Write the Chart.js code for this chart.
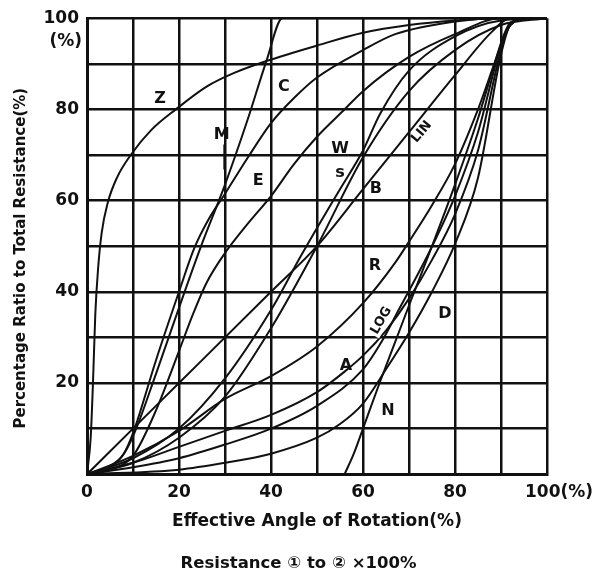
<!DOCTYPE html>
<html>
<head>
<meta charset="utf-8">
<script src="https://cdn.jsdelivr.net/npm/chart.js@4.4.1/dist/chart.umd.min.js"></script>
<style>
    html, body { margin: 0; padding: 0; background: #fff; }
    #wrap { width: 597px; height: 579px; }
</style>
</head>
<body>
<div id="wrap"><canvas id="taperChart"></canvas></div>
<script>
// taper curves, [rotation %, resistance %]
const curveZ = [[0,0],[0.8,8],[1.3,20],[1.8,35],[2.4,45],[3.2,53],[4.5,59.5],[6.5,65],[9.5,70],[14,75.5],[19.3,80],[26,85],[32,88],[39,90.6],[50,94],[60,96.8],[70,98.5],[80,99.5],[90,100],[100,100]];
const curveM = [[0,0],[4.8,1.7],[7.6,3.9],[10,8.3],[15,22],[20,36.5],[24.8,50],[30,63.5],[35,78],[39,90.6],[42.5,100],[100,100]];
const curveC = [[0,0],[5,1.6],[8,4.5],[10,9],[15,25],[20,40],[23.3,49.5],[26.5,56],[30,61.5],[35,69.5],[40,77],[45,82.5],[50,87],[60,93],[67,96.5],[80,99.3],[90,100],[100,100]];
const curveE = [[0,0],[5,1],[10,4],[15,14],[20,27],[23,35],[26,42],[30,48.5],[35,55],[40,61],[45,68],[50,74],[55.7,79.7],[60,84],[70,91.5],[80,96.5],[90,100],[100,100]];
const curveS = [[0,0],[10,2.5],[20,8],[30,17],[40,32],[50,50],[60,69.5],[70,84],[80,93],[90,98.5],[100,100]];
const curveW = [[0,0],[10,3.5],[20,10],[30,21],[40,36],[46.3,47.5],[50,54],[55,62.5],[60,71],[63.7,79],[70,88.5],[80,96],[90,99.5],[100,100]];
const curveLin = [[0,0],[20,20],[40,40],[50,50],[60,62.5],[70,75],[80,87.5],[88,97],[92,100],[100,100]];
const curveR = [[0,0],[10,4],[20,9.5],[30,16.5],[40,21.5],[50,28],[60,37.5],[67,46.4],[70,51],[75,59],[80,68],[85,80],[90,94],[92,98.5],[96,100],[100,100]];
const curveA = [[0,0],[10,2.5],[20,6],[30,9.5],[40,13],[50,18],[56,22.5],[60,26],[65,31.5],[70,38.5],[75,47],[80,57],[85,71],[90,93],[92,98.5],[96,100],[100,100]];
const curveLog = [[0,0],[10,1.5],[20,3.5],[30,6.5],[40,10],[50,15],[60,23],[64,29],[68,36.5],[72,44],[76,52],[80,61],[85,75],[90,94],[92,98.5],[96,100],[100,100]];
const curveD = [[0,0],[20,1],[30,2.5],[40,4.5],[50,8],[55,11],[60,15.5],[65,23],[70,31],[75,40],[80,50.5],[85,65],[90,92],[92,98.5],[96,100],[100,100]];
const curveN = [[56,0],[58,4.5],[60,10],[63.6,20],[67,29],[70,37],[75,50],[80,63.5],[85,78],[88,88],[90.5,96],[92,99],[96,100],[100,100]];
const leaderM = [[29.8,72.3],[29.8,66.8]];

const xTickLabels = [0, 20, 40, 60, 80];
const yTickLabels = [20, 40, 60, 80, 100];

// curve name labels
const labelTexts = ["Z", "C", "M", "E", "W", "s", "B", "LIN", "R", "LOG", "D", "A", "N"];
const labelX = [15.9, 42.8, 29.3, 37.2, 55, 55, 62.8, 72.6, 62.6, 63.8, 77.8, 56.3, 65.4];
const labelY = [82.5, 85.2, 74.7, 64.6, 71.6, 66.4, 62.9, 75.2, 45.9, 33.8, 35.4, 24, 14.2];
const labelAngle = [0, 0, 0, 0, 0, 0, 0, -50, 0, -60, 0, 0, 0];
const labelBoxed = [false, false, false, false, false, false, false, false, false, true, false, false, false];

const yTitle = "Percentage Ratio to Total Resistance(%)";

const ink = "#111";
const fontFamily = "'DejaVu Sans', 'Liberation Sans', sans-serif";

function toPoints(pairs) {
    return pairs.map(([x, y]) => ({ x, y }));
}

function curveDataset(pairs, width = 2) {
    return {
        data: toPoints(pairs),
        showLine: true,
        borderColor: ink,
        borderWidth: width,
        pointRadius: 0,
        tension: 0.4,
        cubicInterpolationMode: "monotone",
    };
}

const curveLabelPlugin = {
    id: "curveLabels",
    afterDatasetsDraw(chart) {
        const { ctx, scales: { x, y } } = chart;
        ctx.save();
        ctx.textAlign = "center";
        ctx.textBaseline = "middle";
        labelTexts.forEach((text, i) => {
            const px = x.getPixelForValue(labelX[i]);
            const py = y.getPixelForValue(labelY[i]);
            ctx.save();
            ctx.translate(px, py);
            ctx.rotate(labelAngle[i] * Math.PI / 180);
            ctx.font = `bold ${text.length > 1 ? 13 : 16}px ${fontFamily}`;
            if (labelBoxed[i]) {
                const w = ctx.measureText(text).width + 4;
                ctx.fillStyle = "#fff";
                ctx.fillRect(-w / 2, -8, w, 16);
            }
            ctx.fillStyle = ink;
            ctx.fillText(text, 0, 1);
            ctx.restore();
        });

        // unit marks at the axis ends
        ctx.font = `bold 17px ${fontFamily}`;
        ctx.fillStyle = ink;
        ctx.textAlign = "right";
        ctx.fillText("(%)", x.left - 5, y.getPixelForValue(100) + 23);
        ctx.textAlign = "left";
        ctx.fillText("100(%)", x.getPixelForValue(100) - 22, x.top + 18);

        // vertical axis title, sitting a little below the plot centre like the print
        ctx.save();
        ctx.translate(21, (y.top + y.bottom) / 2 + 12);
        ctx.rotate(-Math.PI / 2);
        ctx.font = `bold 15px ${fontFamily}`;
        ctx.textAlign = "center";
        ctx.fillText(yTitle, 0, 0);
        ctx.restore();
        ctx.restore();
    }
};

const taperCanvas = document.getElementById("taperChart");
const taperChartData = {
    type: "scatter",
    data: {
        datasets: [
            curveDataset(curveZ),
            curveDataset(curveM),
            curveDataset(curveC),
            curveDataset(curveE),
            curveDataset(curveS),
            curveDataset(curveW),
            curveDataset(curveLin),
            curveDataset(curveR),
            curveDataset(curveA),
            curveDataset(curveLog),
            curveDataset(curveD),
            curveDataset(curveN),
            curveDataset(leaderM, 1.5),
        ]
    },
    options: {
        responsive: true,
        maintainAspectRatio: false,
        animation: false,
        layout: {
            padding: { top: 17, right: 0, left: 0, bottom: 0 }
        },
        plugins: {
            legend: { display: false },
            tooltip: { enabled: false },
            title: {
                display: true,
                position: "bottom",
                text: "Resistance \u2460 to \u2461 \u00d7100%",
                color: ink,
                font: { family: fontFamily, size: 16.5, weight: "bold" },
                padding: { top: 2, bottom: 5 }
            }
        },
        scales: {
            x: {
                type: "linear",
                min: 0,
                max: 100,
                afterFit: (scale) => { scale.height = 78; },
                ticks: {
                    stepSize: 10,
                    autoSkip: false,
                    maxRotation: 0,
                    padding: 8,
                    color: ink,
                    font: { family: fontFamily, size: 17, weight: "bold" },
                    callback: (value) => xTickLabels.includes(value) ? String(value) : ""
                },
                grid: { color: ink, lineWidth: 2.5, drawTicks: false },
                border: { color: ink, width: 3 },
                title: {
                    display: true,
                    text: "Effective Angle of Rotation(%)",
                    color: ink,
                    font: { family: fontFamily, size: 17, weight: "bold" },
                    padding: { top: 0, bottom: 20 }
                }
            },
            y: {
                type: "linear",
                min: 0,
                max: 100,
                afterFit: (scale) => { scale.width = 87; },
                ticks: {
                    stepSize: 10,
                    autoSkip: false,
                    padding: 8,
                    color: ink,
                    font: { family: fontFamily, size: 17, weight: "bold" },
                    callback: (value) => yTickLabels.includes(value) ? String(value) : ""
                },
                grid: { color: ink, lineWidth: 2.5, drawTicks: false },
                border: { color: ink, width: 3 }
            },
            // empty right-hand axis, only reserves the margin right of the plot
            yRight: {
                type: "linear",
                position: "right",
                min: 0,
                max: 100,
                afterFit: (scale) => { scale.width = 50; },
                ticks: { display: false },
                grid: { display: false },
                border: { display: false }
            }
        }
    },
    plugins: [curveLabelPlugin]
};

const taperChart = new Chart(taperCanvas, taperChartData);
</script>
</body>
</html>
